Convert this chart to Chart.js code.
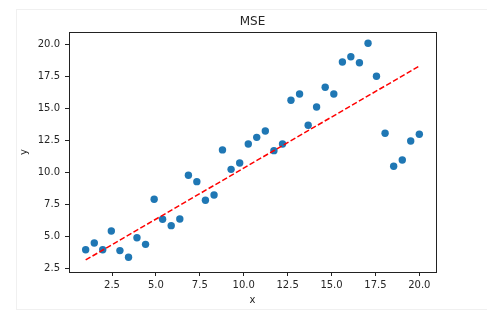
<!DOCTYPE html>
<html>
<head>
<meta charset="utf-8">
<script src="https://cdn.jsdelivr.net/npm/chart.js@4/dist/chart.umd.min.js"></script>
<style>
  html, body { margin: 0; padding: 0; background: #fff; }
  #moldura { position: absolute; left: 16px; top: 9px; width: 480px; height: 299px;
             border: 1px solid #f0f0f0; border-right: none; }
  #grafico-box { position: absolute; left: 0; top: 0; width: 487px; height: 323px; }
</style>
</head>
<body>
<div id="moldura"></div>
<div id="grafico-box"><canvas id="graficoMSE" width="487" height="323"></canvas></div>
<script>
// pontos: 40 valores de x entre 1 e 20
const pontosX = [1.00, 1.49, 1.97, 2.46, 2.95, 3.44, 3.92, 4.41, 4.90, 5.38,
                 5.87, 6.36, 6.85, 7.33, 7.82, 8.31, 8.79, 9.28, 9.77, 10.26,
                 10.74, 11.23, 11.72, 12.21, 12.69, 13.18, 13.67, 14.15, 14.64, 15.13,
                 15.62, 16.10, 16.59, 17.08, 17.56, 18.05, 18.54, 19.03, 19.51, 20.00];
const pontosY = [3.95, 4.48, 3.95, 5.41, 3.88, 3.36, 4.89, 4.37, 7.89, 6.33,
                 5.83, 6.35, 9.77, 9.27, 7.81, 8.23, 11.75, 10.23, 10.73, 12.21,
                 12.73, 13.23, 11.69, 12.21, 15.63, 16.12, 13.67, 15.10, 16.64, 16.12,
                 18.62, 19.03, 18.56, 20.08, 17.50, 13.05, 10.47, 10.96, 12.45, 12.97];
// reta ajustada (extremos)
const retaX = [1, 20];
const retaY = [3.15, 18.3];

const ticksX = [2.5, 5.0, 7.5, 10.0, 12.5, 15.0, 17.5, 20.0];
const ticksY = [2.5, 5.0, 7.5, 10.0, 12.5, 15.0, 17.5, 20.0];
const limitesX = [0.05, 20.95];
const limitesY = [2.21, 20.96];

const corPontos = '#1f77b4';
const corReta = '#ff0000';
const corTexto = '#262626';

const pluginTextos = {
    id: 'textos',
    afterDraw(chart) {
        const ctx = chart.ctx;
        const area = chart.chartArea;
        ctx.save();
        // moldura do eixo
        ctx.strokeStyle = '#222';
        ctx.lineWidth = 1;
        ctx.strokeRect(Math.round(area.left) + 0.5, Math.round(area.top) + 0.5,
                       Math.round(area.right - area.left), Math.round(area.bottom - area.top));
        ctx.fillStyle = corTexto;
        ctx.textAlign = 'center';
        ctx.textBaseline = 'middle';
        ctx.font = '12px "DejaVu Sans"';
        ctx.fillText('MSE', (area.left + area.right) / 2, 22);
        ctx.font = '10px "DejaVu Sans"';
        ctx.fillText('x', (area.left + area.right) / 2, 300);
        ctx.translate(24, (area.top + area.bottom) / 2);
        ctx.rotate(-Math.PI / 2);
        ctx.fillText('y', 0, 0);
        ctx.restore();
    }
};

function eixo(ticks, limites, ehX) {
    return {
        type: 'linear',
        position: ehX ? 'bottom' : 'left',
        min: limites[0],
        max: limites[1],
        afterBuildTicks: (scale) => { scale.ticks = ticks.map(v => ({ value: v })); },
        afterFit: (scale) => {
            if (ehX) scale.height = 51; else scale.width = 69;
        },
        ticks: {
            color: corTexto,
            font: { family: 'DejaVu Sans', size: 10 },
            padding: ehX ? 3 : 5,
            maxRotation: 0,
            autoSkip: false,
            callback: (v) => Number(v).toFixed(1)
        },
        grid: {
            display: true,
            drawOnChartArea: false,
            drawTicks: true,
            tickLength: 4,
            tickColor: '#222',
            tickWidth: 1
        },
        border: { display: false },
        title: { display: false }
    };
}

const dadosReta = retaX.map((x, i) => ({ x: x, y: retaY[i] }));
const dadosPontos = pontosX.map((x, i) => ({ x: x, y: pontosY[i] }));

new Chart(document.getElementById('graficoMSE').getContext('2d'), {
    type: 'scatter',
    data: {
        datasets: [
            {
                type: 'line',
                label: 'ajuste',
                data: dadosReta,
                borderColor: corReta,
                borderWidth: 1.5,
                borderDash: [5.5, 2.4],
                pointRadius: 0,
                fill: false,
                order: 0
            },
            {
                label: 'dados',
                data: dadosPontos,
                backgroundColor: corPontos,
                borderColor: corPontos,
                borderWidth: 0,
                pointRadius: 3.7,
                order: 1
            }
        ]
    },
    options: {
        responsive: false,
        animation: false,
        layout: { padding: { left: 0, top: 32, right: 51, bottom: 0 } },
        plugins: {
            legend: { display: false },
            title: { display: false },
            tooltip: { enabled: false }
        },
        scales: {
            x: eixo(ticksX, limitesX, true),
            y: eixo(ticksY, limitesY, false)
        }
    },
    plugins: [pluginTextos]
});
</script>
</body>
</html>
